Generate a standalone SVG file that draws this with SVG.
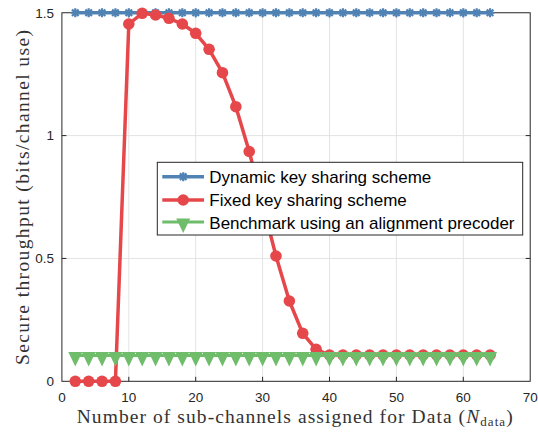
<svg xmlns="http://www.w3.org/2000/svg" width="538" height="434" viewBox="0 0 538 434">
<style>
.grid{stroke:#e3e3e3;stroke-width:1;fill:none}
.axis{stroke:#262626;stroke-width:1;fill:none}
.tick{font-family:"Liberation Sans",Arial,sans-serif;font-size:13.5px;fill:#262626}
.lab{font-family:"Liberation Serif","Times New Roman",serif;font-size:19.5px;fill:#333}
.leg{font-family:"Liberation Sans",Arial,sans-serif;font-size:17px;fill:#000}
.blue{stroke:#5083b4;stroke-width:3.5;fill:none;stroke-linejoin:round}
.red{stroke:#e6474b;stroke-width:3.5;fill:none;stroke-linejoin:round}
.green{stroke:#6fbd6b;stroke-width:3;fill:none}
</style>
<defs>
<marker id="mAst" markerUnits="userSpaceOnUse" markerWidth="12" markerHeight="12" refX="0" refY="0" overflow="visible" orient="0">
<path d="M-4.5,0H4.5M0,-4.5V4.5M-3.3,-3.3L3.3,3.3M-3.3,3.3L3.3,-3.3" stroke="#5083b4" stroke-width="2.2" fill="none"/>
</marker>
<marker id="mCirc" markerUnits="userSpaceOnUse" markerWidth="14" markerHeight="14" refX="0" refY="0" overflow="visible" orient="0">
<circle r="5.8" fill="#e6474b"/>
</marker>
<marker id="mTri" markerUnits="userSpaceOnUse" markerWidth="16" markerHeight="16" refX="0" refY="0" overflow="visible" orient="0">
<path d="M-7,-3.5H7L0,11Z" fill="#6fbd6b"/>
</marker>
</defs>
<rect width="538" height="434" fill="#fff"/>
<g id="grid">
<path class="grid" d="M128.8,12.75V381.3M195.7,12.75V381.3M262.6,12.75V381.3M329.5,12.75V381.3M396.4,12.75V381.3M463.3,12.75V381.3M61.9,258.45H530.2M61.9,135.6H530.2"/>
</g>
<g id="axes">
<rect class="axis" x="61.9" y="12.75" width="468.3" height="368.55"/>
<path class="axis" d="M128.8,381.3v-4.5M195.7,381.3v-4.5M262.6,381.3v-4.5M329.5,381.3v-4.5M396.4,381.3v-4.5M463.3,381.3v-4.5M61.9,258.45h4.5M61.9,135.6h4.5M128.8,12.75v4.5M195.7,12.75v4.5M262.6,12.75v4.5M329.5,12.75v4.5M396.4,12.75v4.5M463.3,12.75v4.5M530.2,258.45h-4.5M530.2,135.6h-4.5"/>
<g class="tick" text-anchor="end">
<text x="54" y="386">0</text>
<text x="54" y="263.2">0.5</text>
<text x="54" y="140.3">1</text>
<text x="54" y="17.5">1.5</text>
</g>
<g class="tick" text-anchor="middle">
<text x="61.9" y="402">0</text>
<text x="128.8" y="402">10</text>
<text x="195.7" y="402">20</text>
<text x="262.6" y="402">30</text>
<text x="329.5" y="402">40</text>
<text x="396.4" y="402">50</text>
<text x="463.3" y="402">60</text>
<text x="530.2" y="402">70</text>
</g>
<text class="lab" x="76.7" y="423" textLength="436" lengthAdjust="spacing">Number of sub-channels assigned for Data (<tspan font-style="italic">N</tspan><tspan font-size="13" dy="3">data</tspan><tspan dy="-3">)</tspan></text>
<text class="lab" transform="translate(29,365) rotate(-90)" x="0" y="0" textLength="335" lengthAdjust="spacing">Secure throughput (bits/channel use)</text>
</g>
<g id="series">
<polyline id="dynamic" class="blue" marker-start="url(#mAst)" marker-mid="url(#mAst)" marker-end="url(#mAst)" points="75.28,12.75 88.66,12.75 102.04,12.75 115.42,12.75 128.8,12.75 142.18,12.75 155.56,12.75 168.94,12.75 182.32,12.75 195.7,12.75 209.08,12.75 222.46,12.75 235.84,12.75 249.22,12.75 262.6,12.75 275.98,12.75 289.36,12.75 302.74,12.75 316.12,12.75 329.5,12.75 342.88,12.75 356.26,12.75 369.64,12.75 383.02,12.75 396.4,12.75 409.78,12.75 423.16,12.75 436.54,12.75 449.92,12.75 463.3,12.75 476.68,12.75 490.06,12.75"/>
<polyline id="fixed" class="red" marker-start="url(#mCirc)" marker-mid="url(#mCirc)" marker-end="url(#mCirc)" points="75.28,381.3 88.66,381.3 102.04,381.3 115.42,381.3 128.8,24 142.18,13.3 155.56,15 168.94,18.3 182.32,24 195.7,33.3 209.08,49.3 222.46,72.7 235.84,106.7 249.22,151.5 262.6,204 275.98,256 289.36,301 302.74,333.3 316.12,349.3 329.5,355 342.88,355 356.26,355 369.64,355 383.02,355 396.4,355 409.78,355 423.16,355 436.54,355 449.92,355 463.3,355 476.68,355 490.06,355"/>
<polyline id="benchmark" class="green" marker-start="url(#mTri)" marker-mid="url(#mTri)" marker-end="url(#mTri)" points="75.28,355.5 88.66,355.5 102.04,355.5 115.42,355.5 128.8,355.5 142.18,355.5 155.56,355.5 168.94,355.5 182.32,355.5 195.7,355.5 209.08,355.5 222.46,355.5 235.84,355.5 249.22,355.5 262.6,355.5 275.98,355.5 289.36,355.5 302.74,355.5 316.12,355.5 329.5,355.5 342.88,355.5 356.26,355.5 369.64,355.5 383.02,355.5 396.4,355.5 409.78,355.5 423.16,355.5 436.54,355.5 449.92,355.5 463.3,355.5 476.68,355.5 490.06,355.5"/>
</g>
<g id="legend">
<rect x="157.3" y="162.3" width="365.4" height="72.7" fill="#fff" stroke="#262626" stroke-width="1"/>
<path class="blue" d="M162.3,176.7H183.2H204" marker-mid="url(#mAst)"/>
<path class="red" d="M162.3,200H183.2H204" marker-mid="url(#mCirc)"/>
<path class="green" d="M162.3,222H183.2H204" marker-mid="url(#mTri)"/>
<text class="leg" x="209.3" y="182.6">Dynamic key sharing scheme</text>
<text class="leg" x="209.3" y="205.8">Fixed key sharing scheme</text>
<text class="leg" x="209.3" y="228.6">Benchmark using an alignment precoder</text>
</g>
</svg>
